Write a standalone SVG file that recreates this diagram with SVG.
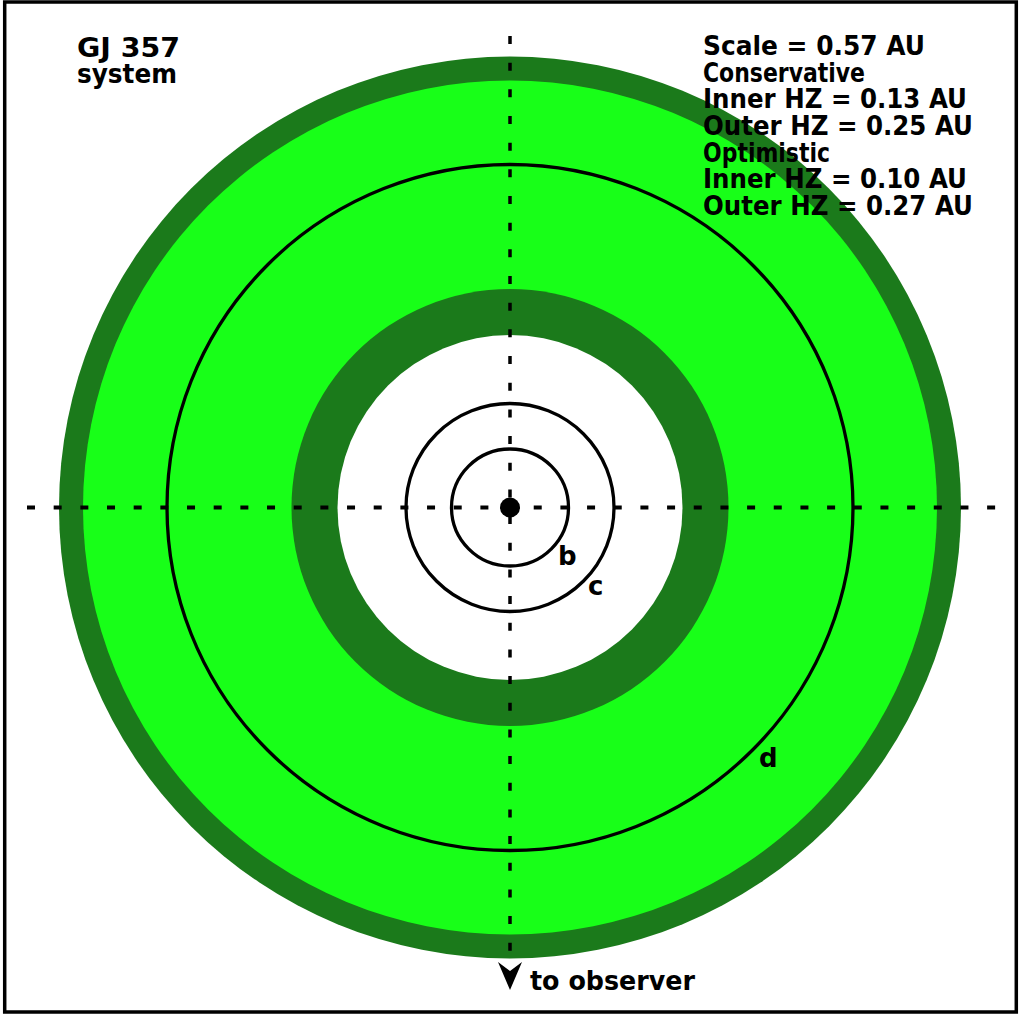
<svg xmlns="http://www.w3.org/2000/svg" width="1020" height="1019" viewBox="0 0 1020 1019">
<style>
.t{font-family:"DejaVu Sans","Liberation Sans",sans-serif;font-weight:bold;font-size:26px;fill:#000}
.lbl{font-family:"DejaVu Sans","Liberation Sans",sans-serif;font-weight:bold;font-size:26px;fill:#000}
.orb{fill:none;stroke:#000;stroke-width:3.3}
.dash{stroke:#000;stroke-width:4;stroke-dasharray:8 18.67;fill:none}
</style>
<rect x="0" y="0" width="1020" height="1019" fill="#fff"/>
<g id="zones">
<circle cx="510" cy="507.5" r="451" fill="#1b7a1b"/>
<circle cx="510" cy="507.5" r="427" fill="#18ff18"/>
<circle cx="510" cy="507.5" r="218.5" fill="#1b7a1b"/>
<circle cx="510" cy="507.5" r="172.5" fill="#fff"/>
</g>
<g id="connectors">
<line class="dash" x1="27" y1="507.5" x2="996" y2="507.5"/>
<line class="dash" x1="510" y1="36" x2="510" y2="951" style="stroke-width:3.5"/>
<polygon points="498,962 510,971 522,962 510,990" fill="#000"/>
</g>
<g id="orbit-d"><circle class="orb" cx="510" cy="507.5" r="343"/><text class="lbl" x="759" y="767">d</text></g>
<g id="orbit-c"><circle class="orb" cx="510" cy="507.5" r="104"/><text class="lbl" x="588" y="595">c</text></g>
<g id="orbit-b"><circle class="orb" cx="510" cy="507.5" r="58.5"/><text class="lbl" x="558" y="565">b</text></g>
<g id="star"><circle cx="510" cy="507.5" r="10" fill="#000"/></g>
<g id="title">
<text class="t" x="77" y="57" textLength="103" lengthAdjust="spacingAndGlyphs">GJ 357</text>
<text class="t" x="77" y="83" textLength="100" lengthAdjust="spacingAndGlyphs">system</text>
</g>
<g id="legend">
<text class="t" x="703" y="55" textLength="222" lengthAdjust="spacingAndGlyphs">Scale = 0.57 AU</text>
<text class="t" x="703" y="81.7" textLength="162" lengthAdjust="spacingAndGlyphs">Conservative</text>
<text class="t" x="703" y="108.3" textLength="264" lengthAdjust="spacingAndGlyphs">Inner HZ = 0.13 AU</text>
<text class="t" x="703" y="135" textLength="270" lengthAdjust="spacingAndGlyphs">Outer HZ = 0.25 AU</text>
<text class="t" x="703" y="161.7" textLength="127" lengthAdjust="spacingAndGlyphs">Optimistic</text>
<text class="t" x="703" y="188.3" textLength="264" lengthAdjust="spacingAndGlyphs">Inner HZ = 0.10 AU</text>
<text class="t" x="703" y="215" textLength="270" lengthAdjust="spacingAndGlyphs">Outer HZ = 0.27 AU</text>
</g>
<g id="observer"><text class="t" x="530" y="990" textLength="165" lengthAdjust="spacingAndGlyphs">to observer</text></g>
<rect x="4.7" y="2" width="1011.6" height="1010" fill="none" stroke="#000" stroke-width="3.5"/>
</svg>
